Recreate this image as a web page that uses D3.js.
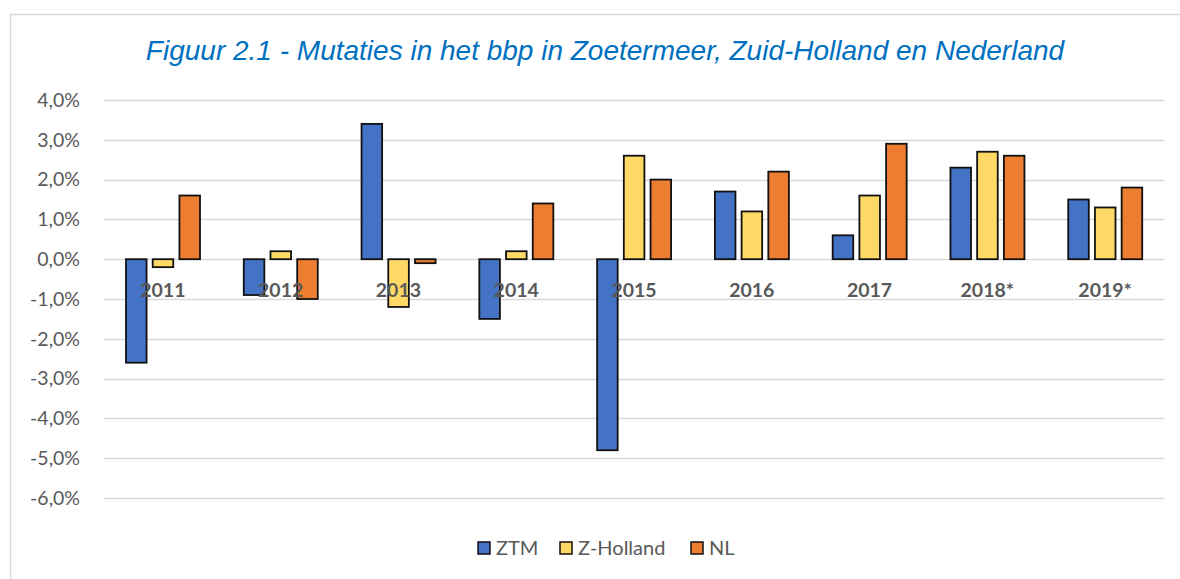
<!DOCTYPE html>
<html>
<head>
<meta charset="utf-8">
<script src="https://cdn.jsdelivr.net/npm/d3@7"></script>
<style>
  body { margin: 0; background: #fff; }
  svg { display: block; }
</style>
</head>
<body>
<svg id="grafiek" width="1180" height="579"></svg>
<script>
var jaren = ["2011", "2012", "2013", "2014", "2015", "2016", "2017", "2018*", "2019*"];
var reeksen = ["ZTM", "Z-Holland", "NL"];
var ztm = [-2.6, -0.9, 3.4, -1.5, -4.8, 1.7, 0.6, 2.3, 1.5];
var zholland = [-0.2, 0.2, -1.2, 0.2, 2.6, 1.2, 1.6, 2.7, 1.3];
var nl = [1.6, -1.0, -0.1, 1.4, 2.0, 2.2, 2.9, 2.6, 1.8];
var yTicks = [4, 3, 2, 1, 0, -1, -2, -3, -4, -5, -6];

const kleuren = ["#4472C4", "#FFD966", "#ED7D31"];
var waarden = [ztm, zholland, nl];

var svg = d3.select("#grafiek"),
    width = +svg.attr("width"),
    height = +svg.attr("height");

// kader om de grafiek
svg.append("rect")
    .attr("x", 10.5).attr("y", 14.5)
    .attr("width", 1200).attr("height", 600)
    .attr("fill", "none")
    .attr("stroke", "#d9d9d9")
    .attr("stroke-width", 1.5);

svg.append("text")
    .attr("x", 605).attr("y", 60)
    .attr("text-anchor", "middle")
    .style("font-family", "'Liberation Sans', Arial, sans-serif")
    .style("font-style", "italic")
    .style("font-size", "28px")
    .attr("fill", "#0070C0")
    .text("Figuur 2.1 - Mutaties in het bbp in Zoetermeer, Zuid-Holland en Nederland");

var x0 = d3.scaleBand().domain(jaren).range([104, 1164]);
var x1 = d3.scaleBand().domain(reeksen).range([22, 96]).paddingInner(0.23);
var y = d3.scaleLinear().domain([-6, 4]).range([498, 100]);

var g = svg.append("g");

// rasterlijnen
g.selectAll(".grid")
    .data(yTicks)
    .enter().append("line")
    .attr("x1", 104).attr("x2", 1164)
    .attr("y1", function(d) { return Math.round(y(d)) + 0.5; })
    .attr("y2", function(d) { return Math.round(y(d)) + 0.5; })
    .attr("stroke", "#d9d9d9")
    .attr("stroke-width", 1.5);

g.selectAll(".ylab")
    .data(yTicks)
    .enter().append("text")
    .attr("x", 80)
    .attr("y", function(d) { return y(d); })
    .attr("dy", "0.35em")
    .attr("text-anchor", "end")
    .style("font-family", "Lato, 'Open Sans', sans-serif")
    .style("font-size", "19.5px")
    .attr("fill", "#595959")
    .text(function(d) { return d3.format(".1f")(d).replace("−", "-").replace(".", ",") + "%"; });

var groep = g.selectAll(".groep")
    .data(jaren)
    .enter().append("g")
    .attr("transform", function(d) { return "translate(" + x0(d) + ",0)"; });

groep.selectAll("rect")
    .data(function(d, i) {
      return reeksen.map(function(r, j) { return { reeks: r, j: j, v: waarden[j][i] }; });
    })
    .enter().append("rect")
    .attr("x", function(d) { return x1(d.reeks); })
    .attr("width", x1.bandwidth())
    .attr("y", function(d) { return y(Math.max(0, d.v)); })
    .attr("height", function(d) { return Math.abs(y(d.v) - y(0)); })
    .attr("fill", function(d) { return kleuren[d.j]; })
    .attr("stroke", "#111")
    .attr("stroke-width", 1.8);

// categorie labels
g.selectAll(".xlab")
    .data(jaren)
    .enter().append("text")
    .attr("x", function(d) { return x0(d) + x0.bandwidth() / 2; })
    .attr("y", 297)
    .attr("text-anchor", "middle")
    .style("font-family", "Lato, 'Open Sans', sans-serif")
    .style("font-weight", "bold")
    .style("font-size", "19.5px")
    .attr("fill", "#595959")
    .text(function(d) { return d; });

// legenda
var legX = [478, 560, 691];
var leg = svg.append("g");
reeksen.forEach(function(r, j) {
  leg.append("rect")
      .attr("x", legX[j]).attr("y", 542)
      .attr("width", 12).attr("height", 12)
      .attr("fill", kleuren[j])
      .attr("stroke", "#111")
      .attr("stroke-width", 1.5);
  leg.append("text")
      .attr("x", legX[j] + 18).attr("y", 548)
      .attr("dy", "0.35em")
      .style("font-family", "Lato, 'Open Sans', sans-serif")
      .style("font-size", "20px")
      .attr("fill", "#595959")
      .text(r);
});
</script>
</body>
</html>
